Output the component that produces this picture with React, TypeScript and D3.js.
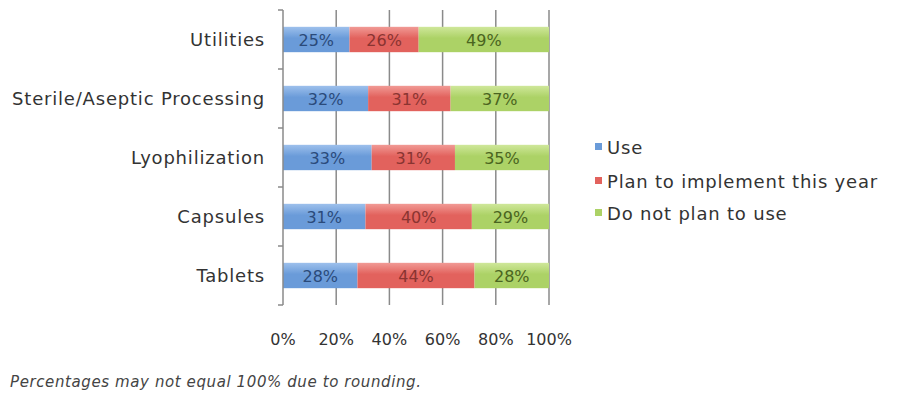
import React from "react";
import * as d3 from "d3";

const categories = ["Utilities", "Sterile/Aseptic Processing", "Lyophilization", "Capsules", "Tablets"];
const seriesNames = ["Use", "Plan to implement this year", "Do not plan to use"];
const useValues = [25, 32, 33, 31, 28];
const planValues = [26, 31, 31, 40, 44];
const notPlanValues = [49, 37, 35, 29, 28];
const xTicks = [0, 20, 40, 60, 80, 100];

const baseColors = ["#6a9bd9", "#e2625d", "#acd266"];
const lightColors = ["#9dc0ec", "#f19a95", "#cfe79a"];
const textColors = ["#2a4a7a", "#8a3431", "#4a6420"];

const FONT = "'DejaVu Sans', 'Open Sans', sans-serif";

export default function App() {
  const width = 901;
  const height = 403;
  const x = d3.scaleLinear().domain([0, 1]).range([283, 549]);
  const y = d3.scaleBand().domain(categories).range([10, 305]).paddingInner(0.57).paddingOuter(0.285);
  const step = y.step();

  const keys = ["s0", "s1", "s2"];
  const rows = categories.map((c, i) => ({
    cat: c,
    s0: useValues[i],
    s1: planValues[i],
    s2: notPlanValues[i],
  }));
  const stack = d3.stack<any>().keys(keys).offset(d3.stackOffsetExpand);
  const stacked = stack(rows);

  const boundaries = d3.range(categories.length + 1).map((i) => 10 + i * step);
  const legendY = [147, 181, 213];

  return (
    <svg width={width} height={height} style={{ position: "absolute", left: 0, top: 0, background: "#fff" }}>
      <defs>
        {baseColors.map((c, i) => (
          <linearGradient key={i} id={`g${i}`} x1="0" y1="0" x2="0" y2="1">
            <stop offset="0" stopColor={lightColors[i]} />
            <stop offset="0.45" stopColor={c} />
            <stop offset="1" stopColor={c} />
          </linearGradient>
        ))}
      </defs>
      {/* gridlines */}
      {xTicks.slice(1).map((t) => (
        <line key={t} x1={x(t / 100)} x2={x(t / 100)} y1={10} y2={305} stroke="#8a8a8a" strokeWidth={1.5} />
      ))}
      {/* bars */}
      {stacked.map((layer, si) =>
        layer.map((d, ci) => {
          const x0 = x(d[0]);
          const x1 = x(d[1]);
          const yy = y(categories[ci])!;
          const raw = (rows[ci] as any)[keys[si]];
          return (
            <g key={`${si}-${ci}`}>
              <rect x={x0} y={yy} width={x1 - x0} height={y.bandwidth()} fill={`url(#g${si})`} />
              <text
                x={(x0 + x1) / 2}
                y={yy + y.bandwidth() / 2 + 6}
                textAnchor="middle"
                fontFamily={FONT}
                fontSize={16}
                fill={textColors[si]}
              >
                {`${raw}%`}
              </text>
            </g>
          );
        })
      )}
      {/* y axis */}
      <line x1={283} x2={283} y1={10} y2={305} stroke="#8a8a8a" strokeWidth={1.5} />
      {boundaries.map((b, i) => (
        <line key={i} x1={278} x2={283} y1={b} y2={b} stroke="#8a8a8a" strokeWidth={1.5} />
      ))}
      {/* category labels */}
      {categories.map((c) => (
        <text
          key={c}
          x={265}
          y={y(c)! + y.bandwidth() / 2 + 6.5}
          textAnchor="end"
          fontFamily={FONT}
          fontSize={18}
          letterSpacing={0.8}
          fill="#333"
        >
          {c}
        </text>
      ))}
      {/* x tick labels */}
      {xTicks.map((t) => (
        <text key={t} x={x(t / 100)} y={345} textAnchor="middle" fontFamily={FONT} fontSize={16} fill="#333">
          {`${t}%`}
        </text>
      ))}
      {/* legend */}
      {seriesNames.map((s, i) => (
        <g key={s}>
          <rect x={595} y={legendY[i] - 4} width={7} height={7} fill={baseColors[i]} />
          <text x={607} y={legendY[i] + 6.5} fontFamily={FONT} fontSize={18} letterSpacing={0.8} fill="#333">
            {s}
          </text>
        </g>
      ))}
      {/* footnote */}
      <text x={10} y={387} fontFamily={FONT} fontSize={15} letterSpacing={0.6} fontStyle="italic" fill="#444">
        Percentages may not equal 100% due to rounding.
      </text>
    </svg>
  );
}
